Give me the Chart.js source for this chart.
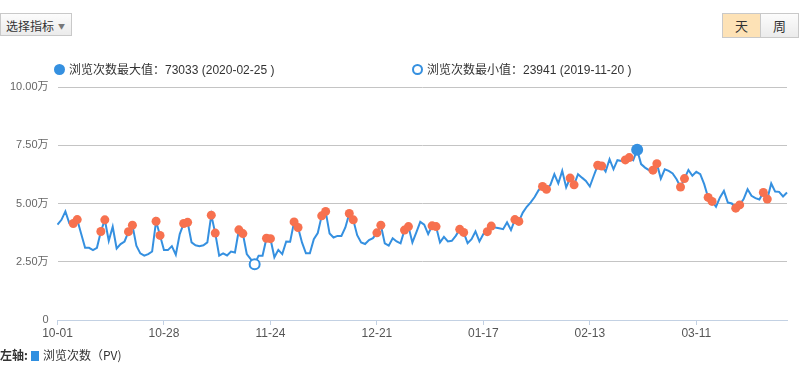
<!DOCTYPE html>
<html>
<head>
<meta charset="utf-8">
<script src="https://cdn.jsdelivr.net/npm/chart.js@4.4.1/dist/chart.umd.min.js"></script>
<style>
  body { margin: 0; width: 800px; height: 386px; position: relative; overflow: hidden; background: #fff;
         font-family: "Liberation Sans", "Noto Sans CJK SC", sans-serif; color: #333; }
  #pv-chart { position: absolute; left: 0; top: 0; }
  .btn { position: absolute; top: 13px; height: 23px; line-height: 23px; border: 1px solid #c9c9c9; white-space: nowrap;
         background: linear-gradient(#fcfcfc, #ebebeb); font-size: 13px; font-family: "Noto Sans CJK SC", sans-serif; }
  #pick { left: 0; width: 72px; padding-left: 5px; box-sizing: border-box; font-size: 12px; }
  #pick .arrow { color: #777; font-size: 7px; margin-left: 4px; position: relative; top: -2px; }
  #day { left: 722px; width: 37px; text-align: center; background: #fde2b6; }
  #week { left: 760px; width: 37px; text-align: center; }
  .mark { position: absolute; top: 62px; font-size: 12px; line-height: 14px; white-space: nowrap; }
  .mark i { display: inline-block; width: 11px; height: 11px; border-radius: 50%; box-sizing: border-box;
            vertical-align: -1px; margin-right: 4px; }
  #mark-max { left: 54px; }
  #mark-max i { background: #3590e0; }
  #mark-min { left: 412px; }
  #mark-min i { border: 2px solid #3590e0; background: #fff; }
  .cn { font-family: "Noto Sans CJK SC", sans-serif; }
  #axis-legend { position: absolute; left: 0; top: 347px; font-size: 12px; line-height: 16px; white-space: nowrap; }
  #axis-legend b { font-family: "Noto Sans CJK SC", sans-serif; }
  #axis-legend i { display: inline-block; width: 8px; height: 10px; background: #2f8fe0; margin: 0 4px 0 3px; vertical-align: -1px; }
</style>
</head>
<body>
<canvas id="pv-chart" width="800" height="386"></canvas>
<div class="btn" id="pick">选择指标<span class="arrow">▼</span></div>
<div class="btn" id="day">天</div>
<div class="btn" id="week">周</div>
<div class="mark" id="mark-max"><i></i><span class="cn">浏览次数最大值：</span>73033 (2020-02-25 )</div>
<div class="mark" id="mark-min"><i></i><span class="cn">浏览次数最小值：</span>23941 (2019-11-20 )</div>
<div id="axis-legend"><b>左轴:</b><i></i><span class="cn">浏览次数（PV)</span></div>
<script>
/* daily page views, 2019-10-01 .. 2020-04-03 */
const OCT_PV = [40900, 43000, 46600, 41500, 41400, 43100, 37000, 31000, 31000, 30000,
                31000, 38000, 43000, 34000, 40000, 30700, 32600, 33700, 37900, 40700,
                31900, 28600, 27600, 28300, 29400, 42400, 36300, 30000, 30000, 31700, 28000];
const NOV_PV = [36900, 41400, 41900, 33300, 32100, 31700, 32100, 33300, 45000, 37300,
                27600, 28600, 27700, 29400, 29000, 38700, 37100, 28300, 26100, 23941,
                27600, 27600, 35100, 34900, 26900, 30100, 28300, 33700, 33600, 42100];
const DEC_PV = [39700, 33300, 28600, 28600, 34700, 37300, 44700, 46600, 37100, 35400,
                36100, 36100, 39700, 45700, 43000, 36400, 33300, 32600, 34300, 35100,
                37400, 40700, 32900, 31900, 35100, 33700, 32900, 38600, 40100, 33300, 37600];
const JAN_PV = [42100, 40900, 36900, 40400, 40100, 33300, 35700, 33700, 34000, 36100,
                38900, 37600, 33000, 34700, 38000, 33700, 36900, 37900, 40300, 39700,
                39400, 39000, 41900, 38600, 43100, 42300, 46100, 48600, 50500, 52800, 55700];
const FEB_PV = [57300, 56100, 58000, 62600, 58600, 64000, 56900, 60900, 58000, 62600,
                61100, 59700, 57300, 61900, 66400, 66100, 63700, 69000, 64700, 68600,
                68300, 68700, 69700, 68600, 73033, 66900, 65400, 64300, 64300];
const MAR_PV = [67100, 60700, 64700, 64000, 62900, 60400, 57100, 60700, 64400, 61900,
                63600, 62600, 58300, 52600, 50900, 48600, 52600, 55400, 50400, 50000,
                48000, 49400, 51900, 56100, 53300, 52300, 51700, 54700, 51900, 58600, 55100];
const APR_PV = [55000, 53000, 54700];

const MONTHS = [['2019', '10', OCT_PV], ['2019', '11', NOV_PV], ['2019', '12', DEC_PV],
                ['2020', '01', JAN_PV], ['2020', '02', FEB_PV], ['2020', '03', MAR_PV], ['2020', '04', APR_PV]];
const X_TICK_LABELS = ['10-01', '10-28', '11-24', '12-21', '01-17', '02-13', '03-11'];
const Y_TICKS = [0, 25000, 50000, 75000, 100000];

const MAX_DATE = '02-25';
const MIN_DATE = '11-20';

const BLUE = '#3590e0';
const RED = '#f7714f';

/* build labels + series */
const labels = [];
const weekend = [];
const pv = [];
MONTHS.forEach(([y, m, vals]) => {
  vals.forEach((v, i) => {
    const d = String(i + 1).padStart(2, '0');
    labels.push(`${m}-${d}`);
    const wd = new Date(+y, +m - 1, i + 1).getDay();
    weekend.push(wd === 0 || wd === 6);
    pv.push(v);
  });
});

const pRadius = labels.map((l, i) => l === MAX_DATE ? 6 : l === MIN_DATE ? 5 : weekend[i] ? 4.5 : 0);
const pBg = labels.map((l, i) => l === MAX_DATE ? BLUE : l === MIN_DATE ? '#fff' : RED);
const pBorder = labels.map((l, i) => (l === MAX_DATE || l === MIN_DATE) ? BLUE : RED);
const pBorderW = labels.map(l => l === MIN_DATE ? 2 : 0);

new Chart(document.getElementById('pv-chart'), {
  type: 'line',
  data: {
    labels,
    datasets: [{
      label: '浏览次数（PV)',
      data: pv,
      borderColor: BLUE,
      borderWidth: 2,
      tension: 0,
      fill: false,
      pointRadius: pRadius,
      pointBackgroundColor: pBg,
      pointBorderColor: pBorder,
      pointBorderWidth: pBorderW,
    }],
  },
  options: {
    responsive: false,
    animation: false,
    layout: { padding: { left: 0, top: 87, right: 13, bottom: 46 } },
    plugins: { legend: { display: false }, tooltip: { enabled: false } },
    scales: {
      x: {
        offset: false,
        afterFit: (s) => { s.height = 20; },
        border: { color: '#c3d1e3', width: 1 },
        grid: { drawOnChartArea: false, drawTicks: true, tickLength: 5, color: '#c3d1e3' },
        ticks: {
          autoSkip: false, maxRotation: 0, padding: 1,
          color: '#555', font: { size: 12, family: '"Liberation Sans", sans-serif' },
          callback: function (v, i) {
            const l = this.getLabelForValue(v);
            return X_TICK_LABELS.includes(l) ? l : null;
          },
        },
      },
      y: {
        min: 0, max: 100000,
        afterFit: (s) => { s.width = 57.5; },
        afterBuildTicks: (s) => { s.ticks = Y_TICKS.map(v => ({ value: v })); },
        border: { display: false },
        grid: { color: '#c4c4c4', drawTicks: false },
        ticks: {
          padding: 9, color: '#666', font: { size: 11, family: '"Liberation Sans", "Noto Sans CJK SC", sans-serif' },
          callback: (v) => v === 0 ? '0' : (v / 10000).toFixed(2) + '万',
        },
      },
    },
  },
});
</script>
</body>
</html>
